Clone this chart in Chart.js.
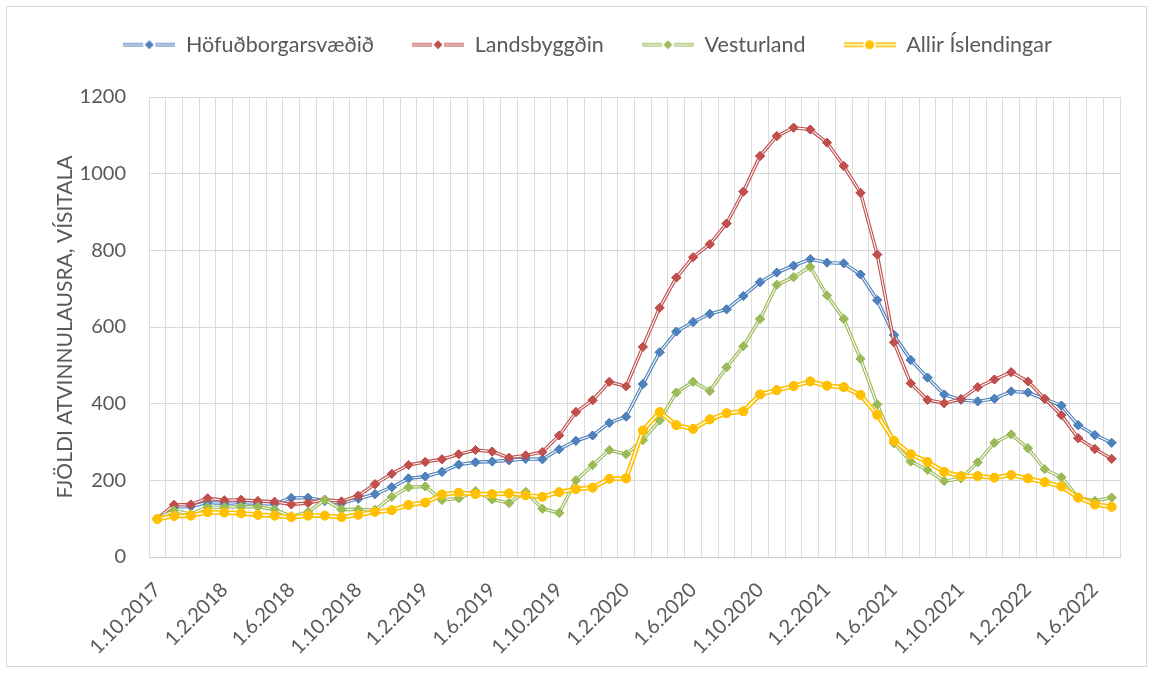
<!DOCTYPE html>
<html>
<head>
<meta charset="utf-8">
<script src="https://cdn.jsdelivr.net/npm/chart.js@4.4.1/dist/chart.umd.min.js"></script>
<style>
html,body{margin:0;padding:0;background:#fff;}
#wrap{position:relative;width:1155px;height:675px;overflow:hidden;}
#frame{position:absolute;left:6px;top:6px;width:1141px;height:661px;border:1px solid #d9d9d9;box-sizing:border-box;}
#c{position:absolute;left:0;top:0;}
</style>
</head>
<body>
<div id="wrap"><div id="frame"></div><canvas id="c" width="1155" height="675"></canvas></div>
<script>
const categories = [
  "1.10.2017","1.11.2017","1.12.2017",
  "1.1.2018","1.2.2018","1.3.2018","1.4.2018","1.5.2018","1.6.2018","1.7.2018","1.8.2018","1.9.2018","1.10.2018","1.11.2018","1.12.2018",
  "1.1.2019","1.2.2019","1.3.2019","1.4.2019","1.5.2019","1.6.2019","1.7.2019","1.8.2019","1.9.2019","1.10.2019","1.11.2019","1.12.2019",
  "1.1.2020","1.2.2020","1.3.2020","1.4.2020","1.5.2020","1.6.2020","1.7.2020","1.8.2020","1.9.2020","1.10.2020","1.11.2020","1.12.2020",
  "1.1.2021","1.2.2021","1.3.2021","1.4.2021","1.5.2021","1.6.2021","1.7.2021","1.8.2021","1.9.2021","1.10.2021","1.11.2021","1.12.2021",
  "1.1.2022","1.2.2022","1.3.2022","1.4.2022","1.5.2022","1.6.2022","1.7.2022"
];
const hofudborgarsvaedid = [100,130,132,142,140,142,140,138,154,155,146,140,152,164,182,205,210,222,241,247,249,252,256,255,281,303,317,350,366,451,534,588,613,634,646,681,717,742,760,777,768,766,737,670,579,514,468,424,410,406,413,432,429,412,395,344,318,298];
const landsbyggdin = [100,136,137,153,148,149,146,144,137,141,150,145,160,190,217,240,248,255,268,279,275,259,265,274,317,378,409,457,445,548,650,729,782,816,870,953,1046,1098,1120,1115,1081,1020,950,789,560,453,410,401,412,443,463,482,458,413,370,310,282,256];
const vesturland = [100,121,112,130,130,131,131,124,106,117,149,124,124,123,157,182,184,149,153,172,150,141,170,126,115,200,240,279,268,305,356,429,457,433,495,550,621,710,730,757,682,621,517,398,297,249,227,198,205,247,298,320,284,229,208,155,146,155];
const allirIslendingar = [99,107,108,117,116,114,110,108,104,108,108,104,110,118,122,136,142,163,168,164,164,166,161,157,169,177,181,204,205,330,378,344,334,359,375,380,424,435,446,458,447,443,423,371,303,268,248,222,211,211,207,214,205,195,184,155,137,131];
const seriesNames = ["Höfuðborgarsvæðið","Landsbyggðin","Vesturland","Allir Íslendingar"];
const yTicks = [0,200,400,600,800,1000,1200];
const labelEvery = 4;

const COLORS = ["#4F81BD","#C0504D","#9BBB59","#FFC000"];
const TEXT = "#595959";
const FONT = "Lato";
const LEGEND_SIZE = 21.5;
const LEGEND_PAD = 38;
const LEGEND_TOP = -4;

function makeSymbol(color, style, lw, inner) {
  const cv = document.createElement('canvas');
  cv.width = 52; cv.height = 14;
  const g = cv.getContext('2d');
  const y = 7;
  g.lineCap = 'butt';
  [[0,20],[32,52]].forEach(([a,b]) => {
    g.beginPath(); g.moveTo(a,y); g.lineTo(b,y);
    g.strokeStyle = color; g.lineWidth = lw; g.stroke();
    g.beginPath(); g.moveTo(a,y); g.lineTo(b,y);
    g.strokeStyle = '#fff'; g.lineWidth = inner; g.stroke();
  });
  g.fillStyle = color;
  g.beginPath();
  if (style === 'circle') { g.arc(26, y, 4.5, 0, Math.PI*2); }
  else { g.moveTo(26-4.5,y); g.lineTo(26,y-4.5); g.lineTo(26+4.5,y); g.lineTo(26,y+4.5); g.closePath(); }
  g.fill();
  return cv;
}

function mk(i, data, style, lw, inner, order) {
  return {
    label: seriesNames[i], data: data,
    borderColor: COLORS[i], backgroundColor: COLORS[i],
    borderWidth: lw, innerWidth: inner,
    pointStyle: style, pointRadius: style === 'circle' ? 4.4 : 4.5,
    pointBorderColor: COLORS[i], pointBackgroundColor: COLORS[i], pointBorderWidth: 1,
    tension: 0, fill: false, order: order,
    symbol: makeSymbol(COLORS[i], style, lw, inner)
  };
}

const doubleLine = {
  id: 'doubleLine',
  beforeLayout(chart) {
    const lg = chart.legend;
    if (lg && !lg._patched) {
      lg._patched = true;
      const origFit = lg.fit;
      lg.fit = function () {
        origFit.call(this);
        this.height = 97 - LEGEND_TOP;
        if (this.lineWidths && this.lineWidths.length) this.lineWidths[0] -= 55;
      };
    }
  },
  afterDatasetDraw(chart, args) {
    const ds = chart.data.datasets[args.index];
    if (!ds.innerWidth) return;
    const ctx = chart.ctx, a = chart.chartArea, pts = args.meta.data;
    ctx.save();
    ctx.beginPath(); ctx.rect(a.left, a.top - 5, a.right - a.left, a.bottom - a.top + 10); ctx.clip();
    ctx.beginPath();
    pts.forEach((p, i) => { if (i) ctx.lineTo(p.x, p.y); else ctx.moveTo(p.x, p.y); });
    ctx.strokeStyle = '#ffffff'; ctx.lineWidth = ds.innerWidth; ctx.lineJoin = 'miter'; ctx.stroke();
    ctx.restore();
    pts.forEach(p => p.draw(ctx, a));
  }
};

new Chart(document.getElementById('c'), {
  type: 'line',
  data: {
    labels: categories,
    datasets: [
      mk(0, hofudborgarsvaedid, 'rectRot', 3.4, 1.1, 3),
      mk(1, landsbyggdin, 'rectRot', 3.4, 1.1, 2),
      mk(2, vesturland, 'rectRot', 3.4, 1.1, 1),
      mk(3, allirIslendingar, 'circle', 4.8, 1.5, 0)
    ]
  },
  options: {
    responsive: false, animation: false, devicePixelRatio: 1,
    layout: { padding: { top: LEGEND_TOP, right: 35, bottom: 0, left: 0 } },
    plugins: {
      tooltip: { enabled: false },
      legend: {
        display: true, position: 'top', align: 'center',
        labels: {
          usePointStyle: true, pointStyleWidth: 52, padding: LEGEND_PAD,
          color: TEXT, font: { family: FONT, size: LEGEND_SIZE },
          generateLabels(chart) {
            return chart.data.datasets.map((ds, i) => ({
              text: ds.label, pointStyle: ds.symbol, fillStyle: ds.borderColor,
              strokeStyle: ds.borderColor, lineWidth: 0, hidden: false, datasetIndex: i, fontColor: TEXT
            }));
          }
        }
      }
    },
    scales: {
      x: {
        type: 'category', offset: true,
        grid: { offset: true, color: '#dcdcdc', lineWidth: 1, drawTicks: false },
        border: { display: true, color: '#cfcfcf', width: 1 },
        ticks: {
          autoSkip: false, maxRotation: 45, minRotation: 45, padding: 21,
          color: TEXT, font: { family: FONT, size: 20 },
          callback(v, i) { return i % labelEvery === 0 ? categories[i] : ''; }
        },
        afterFit(s) { s.height = 675 - 557; }
      },
      y: {
        min: 0, max: 1200,
        afterBuildTicks(s) { s.ticks = yTicks.map(v => ({ value: v })); },
        grid: { color: '#d9d9d9', lineWidth: 1, drawTicks: false },
        border: { display: false },
        ticks: { padding: 23, color: TEXT, font: { family: FONT, size: 20 }, callback(v) { return String(v); } },
        title: { display: true, text: 'FJÖLDI ATVINNULAUSRA, VÍSITALA', color: TEXT, font: { family: FONT, size: 21 }, padding: { top: 53, bottom: 0 } },
        afterFit(s) { s.width = 149; }
      }
    }
  },
  plugins: [doubleLine]
});
</script>
</body>
</html>
